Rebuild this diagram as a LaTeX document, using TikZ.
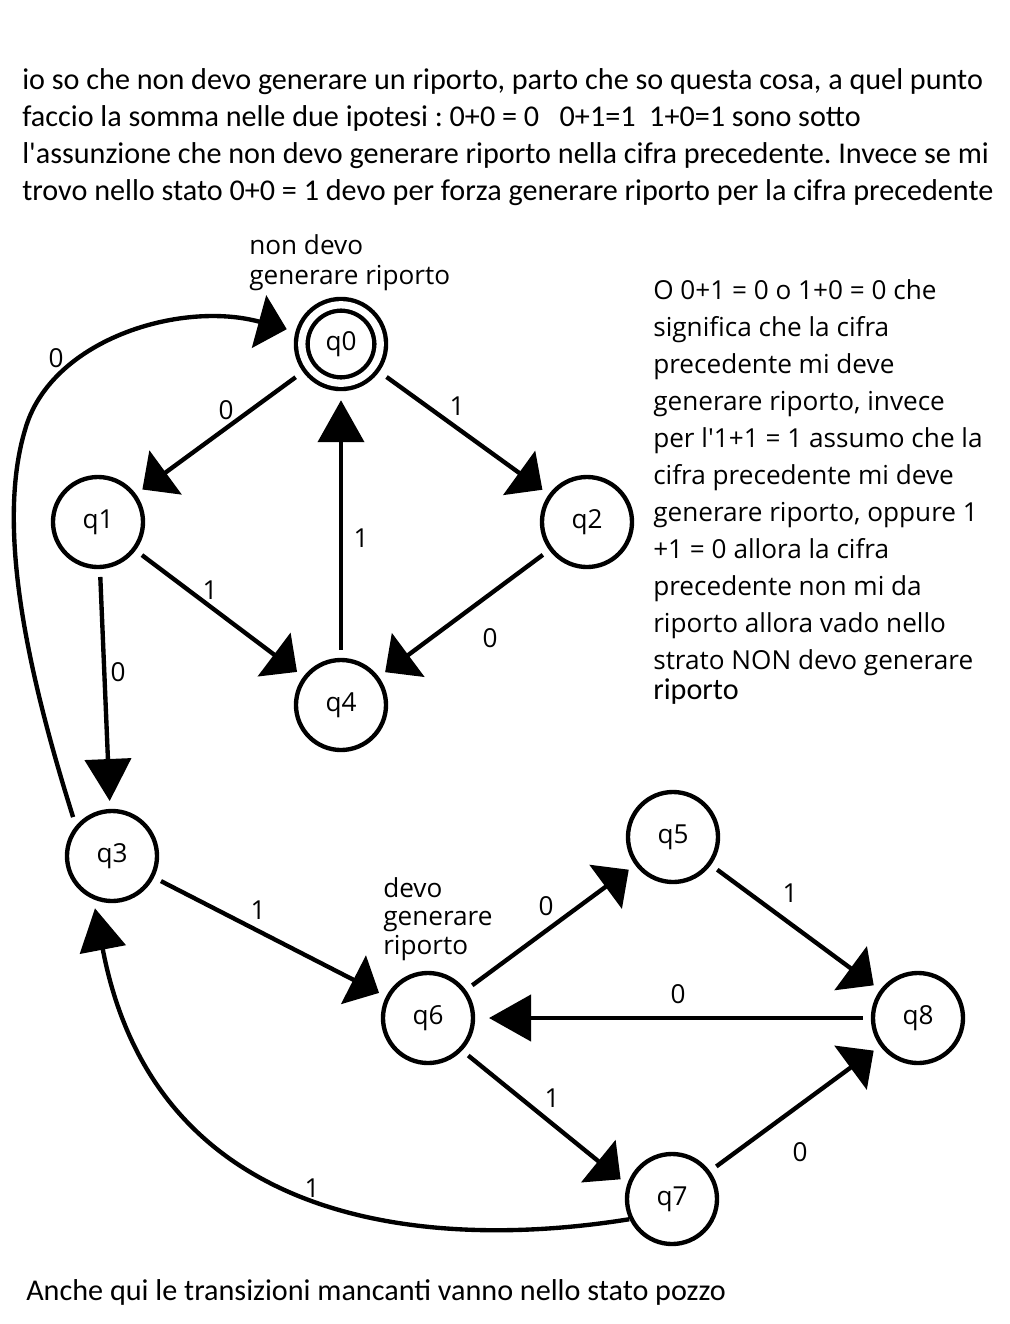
\documentclass[tikz,border=0pt]{standalone}
\usepackage{fontspec}
\setmainfont{Open Sans}
\newfontfamily\carlito{Carlito}
\usetikzlibrary{arrows.meta}

\newcommand\etich{\fontsize{18.6}{26.3}\selectfont\frenchspacing}
\newcommand\testo{\carlito\fontsize{21.45}{26.3}\selectfont\frenchspacing}

\tikzset{
  stato/.style={circle, draw, line width=3.1pt, minimum size=2.25cm, inner sep=0pt, outer sep=0.25cm, font=\etich},
  finale/.style={stato, double, double distance=5.2pt, minimum size=1.96cm, outer sep=0.425cm},
  freccia/.style={line width=3.1pt, -{Triangle[length=1.05cm, width=1.15cm]}},
  obliqua/.style={line width=3.1pt, -{Triangle[length=0.72cm, width=1.35cm]}},
  lbl/.style={font=\etich, inner sep=1pt},
  riga/.style={anchor=base west, inner sep=0pt},
}

\begin{document}
\begin{tikzpicture}[x=0.025cm, y=-0.025cm]
    \useasboundingbox (0,0) rectangle (1010,1324);

    % Testo in alto
    \foreach \frase [count=\i] in {{io so che non devo generare un riporto, parto che so questa cosa, a quel punto},
        {faccio la somma nelle due ipotesi : 0+0 = 0\ \ \ 0+1=1\ \ 1+0=1 sono sotto},
        {l\textquotesingle assunzione che non devo generare riporto nella cifra precedente. Invece se mi},
        {trovo nello stato 0+0 = 1 devo per forza generare riporto per la cifra precedente}}
        \node[riga, font=\testo] (testo\i) at (22,{52+37*\i}) {\frase};

    % Nota a destra
    \foreach \frase [count=\i] in {{O 0+1 = 0 o 1+0 = 0 che}, {significa che la cifra},
        {precedente mi deve}, {generare riporto, invece},
        {per l\textquotesingle 1+1 = 1 assumo che la}, {cifra precedente mi deve},
        {generare riporto, oppure 1}, {+1 = 0 allora la cifra},
        {precedente non mi da}, {riporto allora vado nello},
        {strato NON devo generare}}
        \node[riga, font=\etich] (nota\i) at (653,{262+37*\i}) {\frase};
    \node[riga, font=\testo] (nota12) at (653,699) {riporto};

    % Stati
    \node[finale] (q0) at (341,344) {q0};
    \node[stato] (q1) at (98,522) {q1};
    \node[stato] (q2) at (587,522) {q2};
    \node[stato] (q4) at (341,705) {q4};
    \node[stato] (q3) at (112,856) {q3};
    \node[stato] (q5) at (673,837) {q5};
    \node[stato] (q6) at (428,1018) {q6};
    \node[stato] (q8) at (918,1018) {q8};
    \node[stato] (q7) at (672,1199) {q7};

    % Commenti sugli stati
    \node[riga, font=\etich] (nd1) at (249,254) {non devo};
    \node[riga, font=\etich] (nd2) at (249,284) {generare riporto};
    \node[riga, font=\etich] (dg1) at (383,897) {devo};
    \node[riga, font=\etich] (dg2) at (383,925) {generare};
    \node[riga, font=\etich] (dg3) at (383,954) {riporto};

    % Transizioni
    \draw[obliqua] (q0) -- (q1);
    \draw[obliqua] (q0) -- (q2);
    \draw[freccia] (q4) -- (q0);
    \draw[obliqua] (q1) -- (q4);
    \draw[obliqua] (q2) -- (q4);
    \draw[freccia] (q1) -- (q3);
    \draw[obliqua] (q3.135) .. controls (30,680) and (-5,530) .. (25,430)
        .. controls (50,340) and (180,300) .. (q0);
    \draw[obliqua] (q3) -- (q6);
    \draw[obliqua] (q6) -- (q5);
    \draw[obliqua] (q5) -- (q8);
    \draw[freccia, shorten >=0.15cm] (q8) -- (q6);
    \draw[obliqua] (q6.-43) -- (q7.159);
    \draw[obliqua] (q7) -- (q8);
    \draw[freccia, shorten <=-0.2cm] (q7.203) .. controls (470,1245) and (160,1250) .. (q3.252);

    % Etichette
    \node[lbl] (e30) at (56,358) {0};
    \node[lbl] (e01) at (226,410) {0};
    \node[lbl] (e02) at (457,406) {1};
    \node[lbl] (e40) at (361,538) {1};
    \node[lbl] (e14) at (210,590) {1};
    \node[lbl] (e24) at (490,638) {0};
    \node[lbl] (e13) at (118,672) {0};
    \node[lbl] (e36) at (258,910) {1};
    \node[lbl] (e65) at (546,906) {0};
    \node[lbl] (e58) at (790,893) {1};
    \node[lbl] (e86) at (678,994) {0};
    \node[lbl] (e67) at (552,1098) {1};
    \node[lbl] (e78) at (800,1152) {0};
    \node[lbl] (e73) at (312,1188) {1};

    % Testo in basso
    \node[riga, font=\testo] (fine) at (26,1300) {Anche qui le transizioni mancanti vanno nello stato pozzo};

\end{tikzpicture}
\end{document}
